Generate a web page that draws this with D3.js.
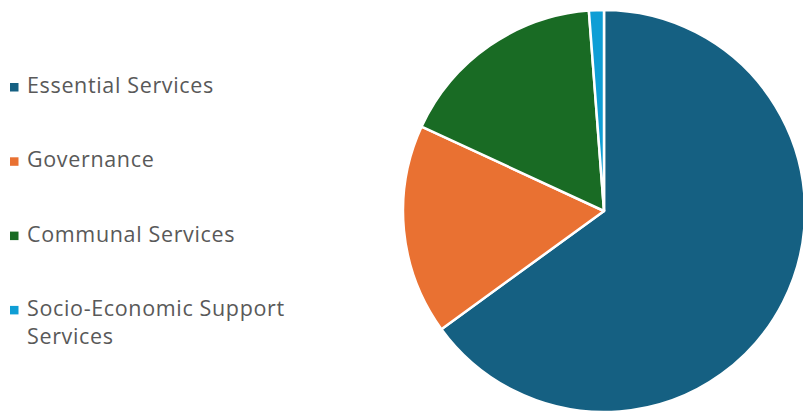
<!DOCTYPE html>
<html><head><meta charset="utf-8">
<script src="https://cdn.jsdelivr.net/npm/d3@7"></script>
<style>html,body{margin:0;padding:0;background:#fff;overflow:hidden}</style>
</head><body><svg id="c" width="803" height="412"></svg>
<script>
const categories = ["Essential Services", "Governance", "Communal Services", "Socio-Economic Support Services"];
const values = [65.0, 16.9, 16.9, 1.2];
const colors = ["#156082", "#E97132", "#196B24", "#0F9ED5"];
const legendLines = [["Essential Services"], ["Governance"], ["Communal Services"], ["Socio-Economic Support", "Services"]];

const svg = d3.select("#c");
const cx = 604, cy = 211, r = 201;
const pie = d3.pie().sort(null).value(d => d)(values);
const arc = d3.arc().innerRadius(0).outerRadius(r);
const g = svg.append("g").attr("transform", `translate(${cx},${cy})`);
g.selectAll("path").data(pie).enter().append("path")
  .attr("d", arc).attr("fill", (d, i) => colors[i])
  .attr("stroke", "#fff").attr("stroke-width", 2.5).attr("stroke-linejoin", "round");

const lg = svg.append("g");
const y0 = 93, step = 74.3;
legendLines.forEach((lines, i) => {
  const by = y0 + i * step;
  lg.append("rect").attr("x", 10).attr("y", by - 10).attr("width", 8.5).attr("height", 8.5).attr("fill", colors[i]);
  const t = lg.append("text").attr("x", 27).attr("y", by)
    .attr("font-family", "'Open Sans', sans-serif").attr("font-size", 21.5)
    .attr("letter-spacing", 0.65).attr("fill", "#595959");
  lines.forEach((ln, j) => t.append("tspan").attr("x", 27).attr("dy", j ? 28 : 0).text(ln));
});
</script></body></html>
